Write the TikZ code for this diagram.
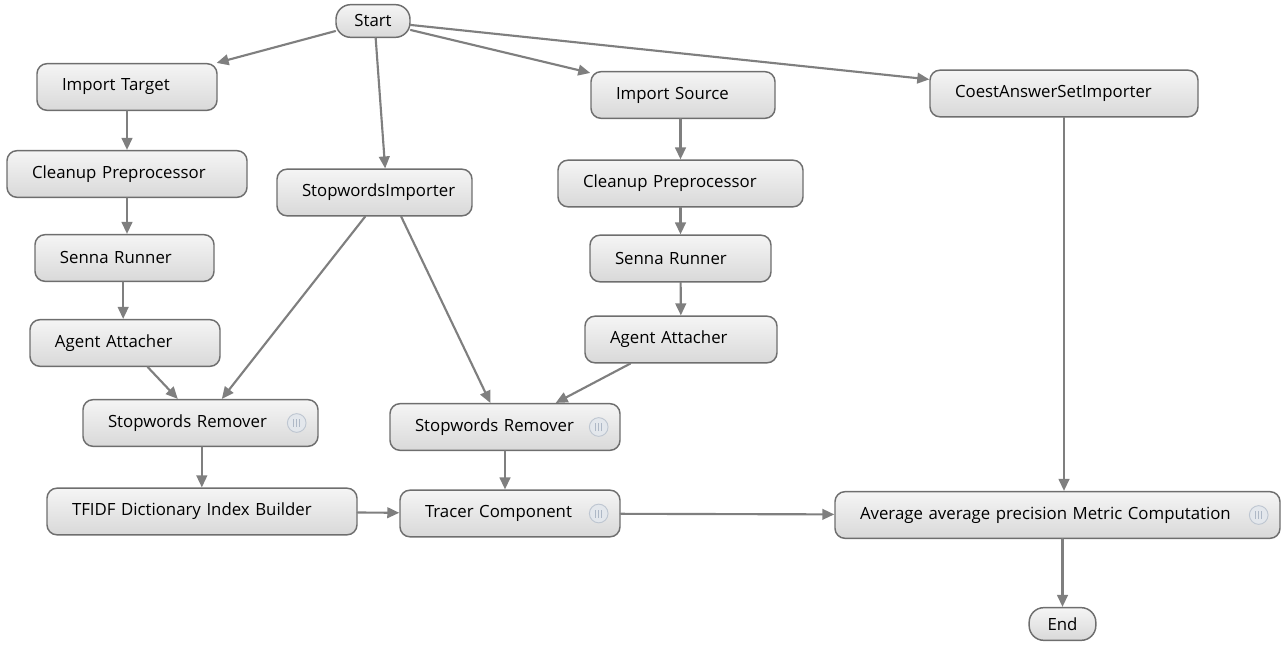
\documentclass[tikz,border=0pt]{standalone}
\usepackage{fontspec}
\setmainfont{Open Sans}
\usetikzlibrary{arrows.meta}
\definecolor{edgegray}{HTML}{6E6E6E}
\definecolor{arrowgray}{HTML}{7F7F7F}
\definecolor{icongray}{HTML}{E3E7EC}
\definecolor{iconline}{HTML}{AEB8C6}
\begin{document}
\begin{tikzpicture}[x=0.75pt,y=-0.75pt,line cap=round,line join=round,>={Triangle[length=9pt,width=8pt]},
		stage/.style={draw=edgegray,line width=1.1pt,rounded corners=7.5pt,top color=white!96!black,bottom color=white!85!black,
			minimum height=35pt,inner xsep=18.75pt,text width=#1,align=left,font=\fontsize{12.6}{14}\selectfont},
		pill/.style={draw=edgegray,line width=1.1pt,rounded corners=11pt,top color=white!96!black,bottom color=white!85!black,
			minimum height=24.5pt,inner xsep=0pt,font=\fontsize{12.6}{14}\selectfont},
		flow/.style={->,draw=arrowgray,line width=1.6pt}]
	\useasboundingbox (0,0) rectangle (1286,645);
	\node[pill,minimum width=55.5pt] (start) at (373,21) {Start};
	\node[stage=97.5pt] (imptgt) at (127,87) {Import Target};
	\node[stage=142.5pt] (cleanl) at (127,174) {Cleanup Preprocessor};
	\node[stage=96.75pt] (sennal) at (124.5,258) {Senna Runner};
	\node[stage=105pt] (agentl) at (125,343) {Agent Attacher};
	\node[stage=138.75pt] (swreml) at (200.5,423) {Stopwords Remover};
	\node[stage=195pt] (tfidf) at (202,511.5) {TFIDF Dictionary Index Builder};
	\node[stage=108.75pt] (swimp) at (374.5,192.5) {StopwordsImporter};
	\node[stage=135pt] (swremm) at (505,427) {Stopwords Remover};
	\node[stage=127.5pt] (tracer) at (510,513.5) {Tracer Component};
	\node[stage=100.5pt] (impsrc) at (683,95) {Import Source};
	\node[stage=146.25pt] (cleanr) at (680.5,183.5) {Cleanup Preprocessor};
	\node[stage=98.25pt] (sennar) at (680.5,258.5) {Senna Runner};
	\node[stage=106.5pt] (agentr) at (681,339.5) {Agent Attacher};
	\node[stage=163.5pt] (coest) at (1064,93.5) {CoestAnswerSetImporter};
	\node[stage=296.25pt] (avg) at (1057.5,515) {Average average precision Metric Computation};
	\node[pill,minimum width=50pt] (end) at (1062.5,624) {End};
	\foreach \n in {swreml,swremm,tracer,avg}{
		\draw[draw=iconline!80,fill=icongray,line width=0.7pt] ([xshift=-16.5pt]\n.east) circle (7pt);
		\foreach \dx in {-2.2pt,0pt,2.2pt}
			\draw[iconline,line width=1pt,line cap=butt] ([xshift=-16.5pt+\dx,yshift=-3pt]\n.east) -- ([xshift=-16.5pt+\dx,yshift=3pt]\n.east);
	}
	\draw[flow] (start) -- (imptgt);
	\draw[flow] ([xshift=2pt]start.south) -- ([xshift=8pt]swimp.north);
	\draw[flow] (start) -- (impsrc);
	\draw[flow] (start) -- (coest);
	\draw[flow] (imptgt) -- (cleanl);
	\draw[flow] (cleanl.south) -- (cleanl.south |- sennal.north);
	\draw[flow] ([xshift=-1pt]sennal.south) -- ([xshift=-1pt]sennal.south |- agentl.north);
	\draw[flow] (agentl) -- (swreml);
	\draw[flow] ([xshift=-7pt]swimp.south) -- ([xshift=16pt]swreml.north);
	\draw[flow] ([xshift=20pt]swimp.south) -- ([xshift=-11pt]swremm.north);
	\draw[flow] ([xshift=-38pt]agentr.south) -- ([xshift=38pt]swremm.north);
	\draw[flow] (impsrc.south -| cleanr.north) -- (cleanr.north);
	\draw[flow] (cleanr) -- (sennar);
	\draw[flow] (sennar) -- (agentr);
	\draw[flow] ([xshift=1pt]swreml.south) -- ([xshift=1pt]swreml.south |- tfidf.north);
	\draw[flow] (swremm.south) -- (swremm.south |- tracer.north);
	\draw[flow] (tfidf) -- (tracer);
	\draw[flow] (tracer) -- (avg);
	\draw[flow] (coest.south) -- (coest.south |- avg.north);
	\draw[flow] (end.north |- avg.south) -- (end.north);
\end{tikzpicture}
\end{document}
